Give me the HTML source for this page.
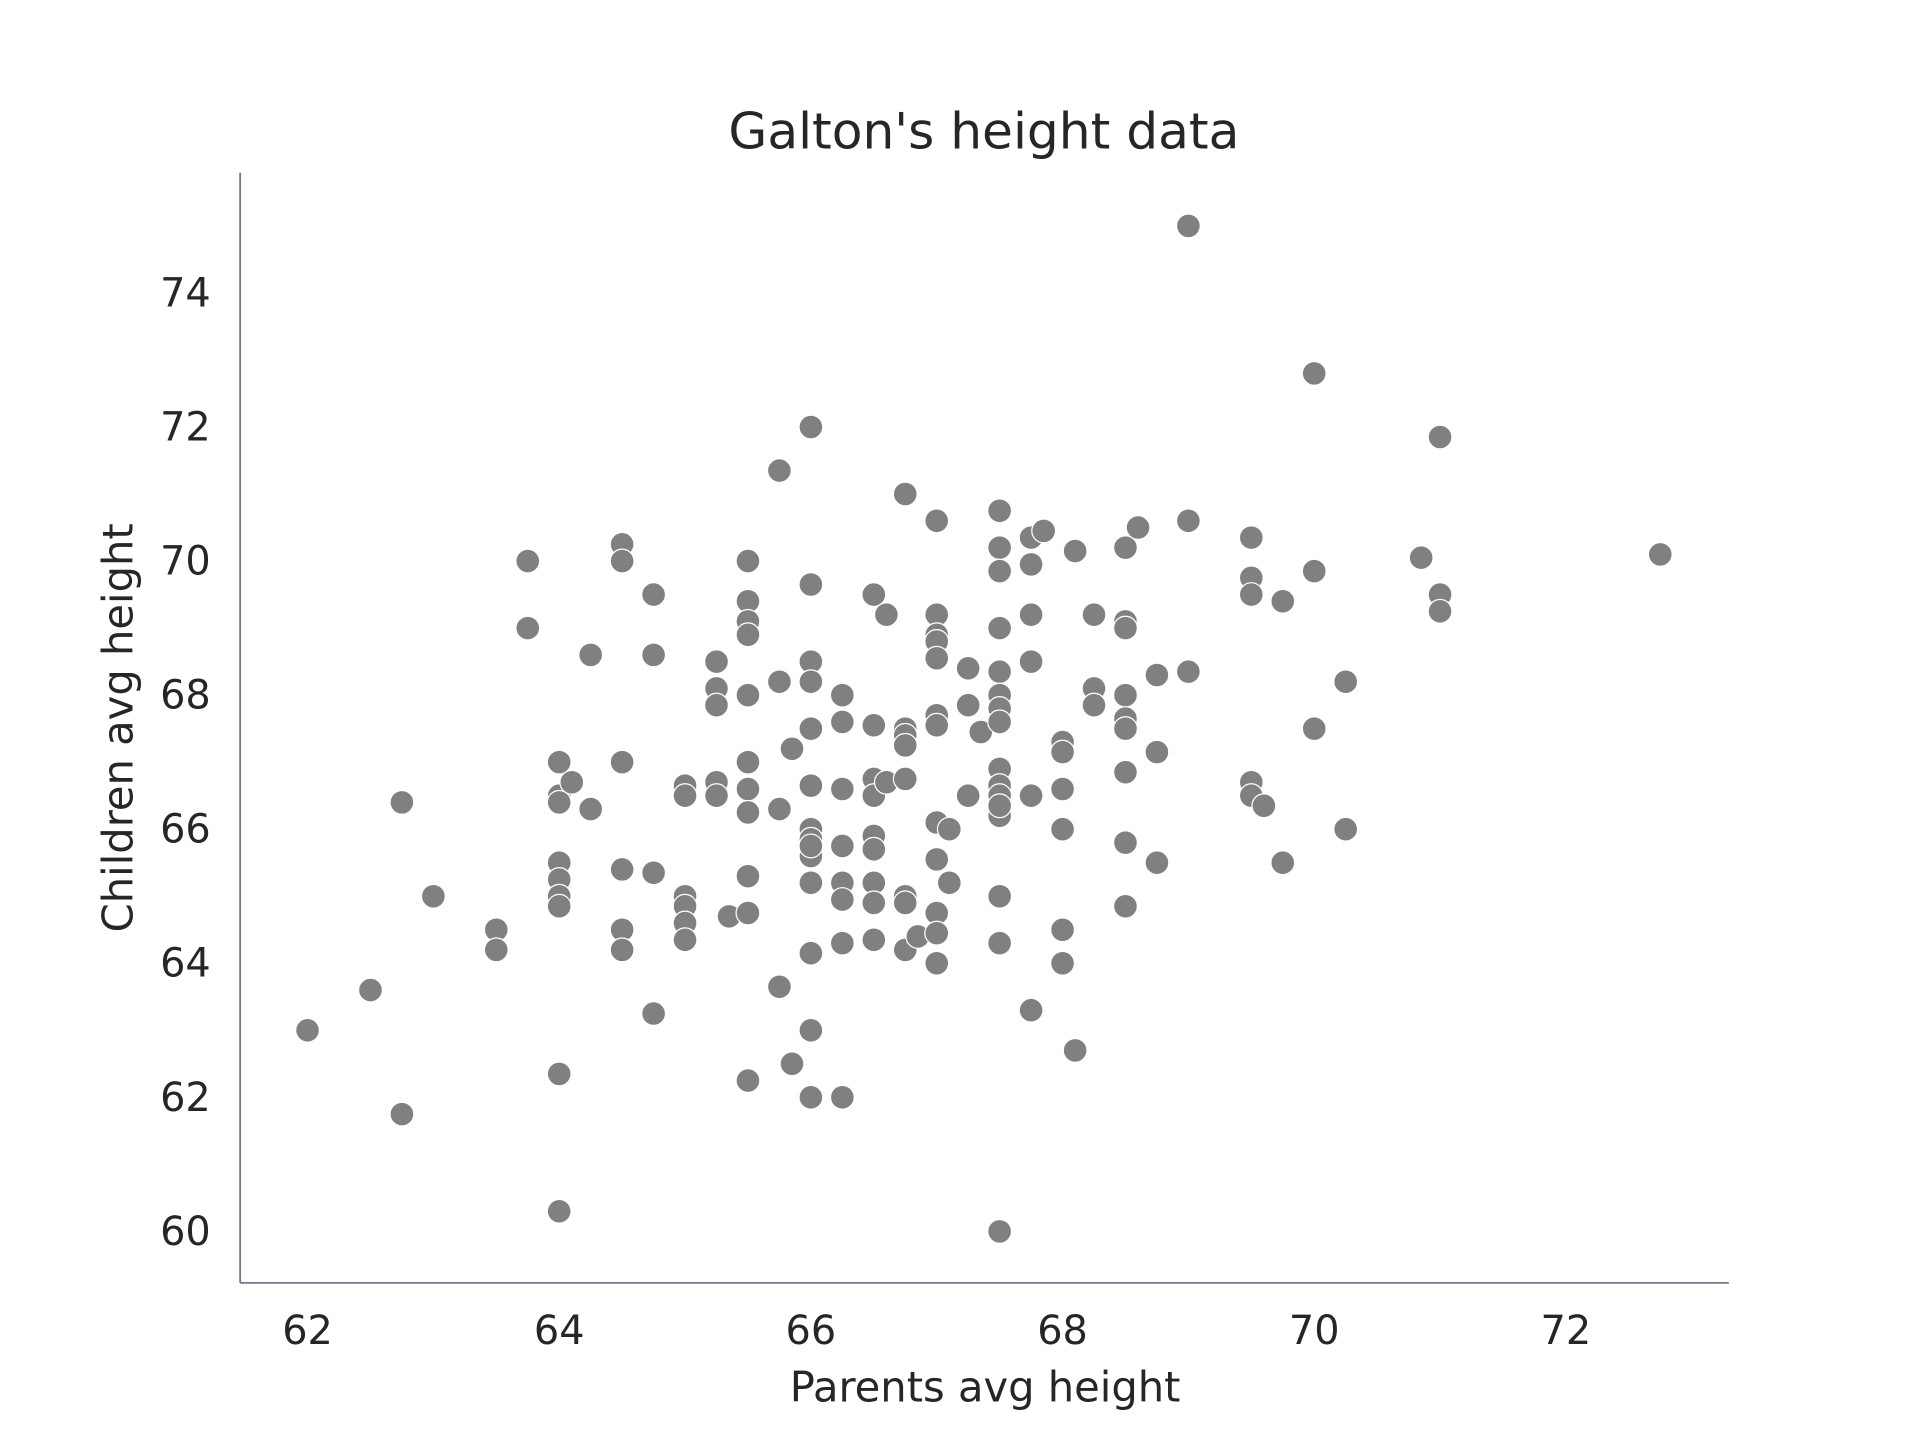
<!DOCTYPE html>
<html><head><meta charset="utf-8"><style>
html,body{margin:0;padding:0;background:#fff;}
svg{display:block;}
text{font-family:"DejaVu Sans","Liberation Sans",sans-serif;fill:#262626;}
</style></head><body>
<svg id="chart" width="1920" height="1440" viewBox="0 0 1567 1175.25" xmlns="http://www.w3.org/2000/svg">
<rect width="1567" height="1175.25" fill="#fff"/>
<text x="803" y="121" font-size="41" text-anchor="middle">Galton's height data</text>
<g id="ticks"></g>
<g id="points"></g>
<line x1="196" y1="141" x2="196" y2="1047" stroke="#6e7b8b" stroke-width="1.5"/>
<line x1="196" y1="1047" x2="1411" y2="1047" stroke="#6e7b8b" stroke-width="1.5"/>
<text x="804" y="1144" font-size="34" text-anchor="middle">Parents avg height</text>
<text transform="translate(108,594) rotate(-90)" font-size="34" text-anchor="middle">Children avg height</text>
</svg>
<script>
const xTicks=[62,64,66,68,70,72];
const yTicks=[60,62,64,66,68,70,72,74];
const parents=[62,62.5,62.75,62.75,63,63.5,63.5,63.75,63.75,64,64,64,64,64,64,64,64,64,64.1,64.25,64.25,64.5,64.5,64.5,64.5,64.5,64.5,64.75,64.75,64.75,64.75,65,65,65,65,65,65,65.25,65.25,65.25,65.25,65.25,65.35,65.5,65.5,65.5,65.5,65.5,65.5,65.5,65.5,65.5,65.5,65.5,65.75,65.75,65.75,65.75,65.85,65.85,66,66,66,66,66,66,66,66,66,66,66,66,66,66,66.25,66.25,66.25,66.25,66.25,66.25,66.25,66.25,66.5,66.5,66.5,66.5,66.5,66.5,66.5,66.5,66.5,66.6,66.6,66.75,66.75,66.75,66.75,66.75,66.75,66.75,66.75,66.85,67,67,67,67,67,67,67,67,67,67,67,67,67.1,67.1,67.25,67.25,67.25,67.35,67.5,67.5,67.5,67.5,67.5,67.5,67.5,67.5,67.5,67.5,67.5,67.5,67.5,67.5,67.5,67.5,67.75,67.75,67.75,67.75,67.75,67.75,67.85,68,68,68,68,68,68,68.1,68.1,68.25,68.25,68.25,68.5,68.5,68.5,68.5,68.5,68.5,68.5,68.5,68.5,68.6,68.75,68.75,68.75,69,69,69,69.5,69.5,69.5,69.5,69.5,69.6,69.75,69.75,70,70,70,70.25,70.25,70.85,71,71,71,72.75];
const children=[63,63.6,66.4,61.75,65,64.5,64.2,70,69,67,66.5,66.4,65.5,65.25,65,64.85,62.35,60.3,66.7,68.6,66.3,70.25,70,67,65.4,64.5,64.2,69.5,68.6,65.35,63.25,66.65,66.5,65,64.85,64.6,64.35,68.5,68.1,67.85,66.7,66.5,64.7,70,69.4,69.1,68.9,68,67,66.6,66.25,65.3,64.75,62.25,71.35,68.2,66.3,63.65,67.2,62.5,72,69.65,68.5,68.2,67.5,66.65,66,65.85,65.6,65.75,65.2,64.15,63,62,68,67.6,66.6,65.75,65.2,64.95,64.3,62,69.5,67.55,66.75,66.5,65.9,65.7,65.2,64.9,64.35,69.2,66.7,71,67.5,67.4,67.25,66.75,65,64.9,64.2,64.4,70.6,69.2,68.9,68.8,68.55,67.7,67.55,66.1,65.55,64.75,64.45,64,66,65.2,68.4,67.85,66.5,67.45,70.75,70.2,69.85,69,68.35,68,67.8,67.6,66.9,66.65,66.5,66.2,66.35,65,64.3,60,70.35,69.95,69.2,68.5,66.5,63.3,70.45,67.3,67.15,66.6,66,64.5,64,70.15,62.7,69.2,68.1,67.85,70.2,69.1,69,68,67.65,67.5,66.85,65.8,64.85,70.5,68.3,67.15,65.5,75,70.6,68.35,70.35,69.75,69.5,66.7,66.5,66.35,69.4,65.5,72.8,69.85,67.5,68.2,66,70.05,71.85,69.5,69.25,70.1];
const NS="http://www.w3.org/2000/svg";
function sx(v){return 251+(v-62)*102.7;}
function sy(v){return 1005-(v-60)*54.71;}
const tg=document.getElementById('ticks');
xTicks.forEach(t=>{
  const e=document.createElementNS(NS,'text');
  
  
  e.setAttribute('x',sx(t));e.setAttribute('y',1097);
  e.setAttribute('font-size','32.5');e.setAttribute('text-anchor','middle');
  e.textContent=t;tg.appendChild(e);
});
yTicks.forEach(t=>{
  const e=document.createElementNS(NS,'text');
  
  
  e.setAttribute('x',172);e.setAttribute('y',sy(t)+11);
  e.setAttribute('font-size','32.5');e.setAttribute('text-anchor','end');
  e.textContent=t;tg.appendChild(e);
});
const pg=document.getElementById('points');
parents.forEach((p,i)=>{
  const c=document.createElementNS(NS,'circle');
  
  
  c.setAttribute('cx',sx(p));c.setAttribute('cy',sy(children[i]));
  c.setAttribute('r','9.7');c.setAttribute('fill','#808080');
  c.setAttribute('stroke','#fff');c.setAttribute('stroke-width','1');
  pg.appendChild(c);
});
</script>
</body></html>
